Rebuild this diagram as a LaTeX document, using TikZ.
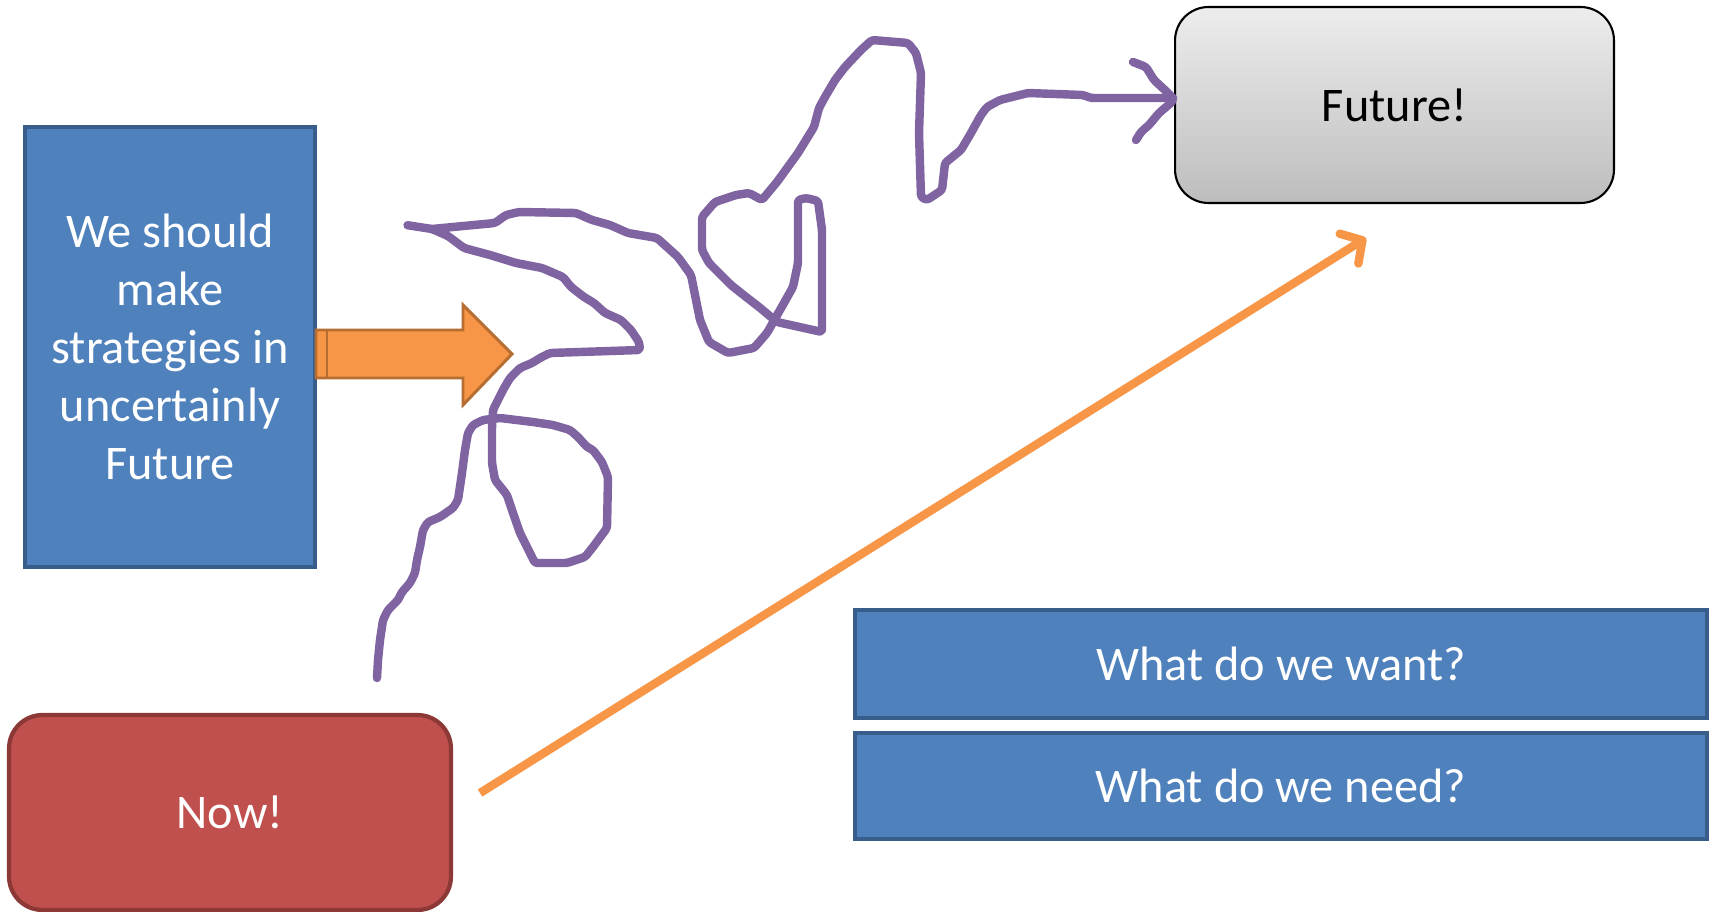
\documentclass[tikz,border=0pt]{standalone}
\usepackage{fontspec}
\setmainfont{Carlito}
\usetikzlibrary{arrows.meta,positioning}
\definecolor{boxblue}{RGB}{79,129,189}
\definecolor{boxedge}{RGB}{56,93,138}
\definecolor{nowred}{RGB}{192,80,77}
\definecolor{nowedge}{RGB}{140,56,54}
\definecolor{orange}{RGB}{247,150,70}
\definecolor{orangedge}{RGB}{182,109,49}
\definecolor{scrib}{RGB}{128,100,162}
\definecolor{futtop}{RGB}{237,237,237}
\definecolor{futbot}{RGB}{189,189,189}
\tikzset{
  big/.style={font=\fontsize{27.5}{33}\selectfont},
  blk/.style={big,draw=boxedge,line width=2.2pt,fill=boxblue,text=white,align=center,inner sep=0pt},
  nowbox/.style={big,draw=nowedge,line width=2.4pt,fill=nowred,text=white,rounded corners=19pt,inner sep=0pt},
  futbox/.style={big,draw=black,line width=1.2pt,top color=futtop,bottom color=futbot,rounded corners=19pt,inner sep=0pt},
  arr/.style={-{Straight Barb[length=9pt,width=20pt,round]},line width=4.8pt,draw=orange},
  scribble/.style={draw=scrib,line width=4.8pt,line cap=round,line join=round,rounded corners=1.5pt},
  blockarr/.style={draw=orangedge,line width=1.7pt,fill=orange,line join=miter}
}

\begin{document}
\begin{tikzpicture}[x=0.02cm,y=-0.02cm]
  \useasboundingbox (0,0) rectangle (1710,912);

  \node[blk,minimum width=5.8cm,minimum height=8.8cm] (plan) at (170,347) {We should\\make\\strategies in\\uncertainly\\Future};
  \node[futbox,minimum width=8.78cm,minimum height=3.92cm] (fut) at (1394.5,105) {Future!};
  \node[nowbox,minimum width=8.84cm,minimum height=3.9cm] (now) at (230,812.5) {Now!};
  \node[blk,minimum width=17.04cm,minimum height=2.16cm] (want) at (1281,664) {What do we want?};
  \node[blk,minimum width=17.04cm,minimum height=2.12cm] (need) at (1281,786) {What do we need?};

  % fat arrow out of the plan box
  \draw[blockarr] (316,330) -- (463,330) -- (463,305) -- (512,354) -- (463,405) -- (463,378) -- (316,378) -- cycle;
  \draw[orangedge,line width=1.2pt] (327,331) -- (327,377);

  % straight way
  \coordinate (nowtip) at (480,793);
  \coordinate (futtip) at (1366,238);
  \draw[arr] (nowtip) -- (futtip);

  % the winding way
  \coordinate (futin) at (1173,98);
  \draw[scribble] plot coordinates {
    (377,678) (378,660) (380,640) (383,620) (388,610) (398,600) (402,592) (410,583) (415,573) (417,560)
    (420,547) (423,530) (428,522) (440,517) (453,508) (458,500) (462,473) (465,450) (468,433) (473,425)
    (483,420) (500,418) (533,422) (553,425) (570,430) (578,437) (587,447) (593,450) (602,462) (608,477)
    (607,528) (593,547) (585,557) (567,563) (535,563) (532,557) (525,543) (520,533) (513,513) (507,495)
    (495,480) (492,463) (492,427) (493,410) (497,402) (503,390) (510,378) (520,368) (532,363) (540,358)
    (550,353) (640,350) (639,342) (631,330) (621,320) (605,313) (594,303) (584,297) (571,287) (563,277)
    (542,268) (516,263) (490,255) (464,248) (448,236) (432,229) (406,225) (432,229) (495,223) (506,215)
    (519,212) (576,213) (592,220) (610,225) (628,233) (657,238) (678,257) (691,275) (696,300) (700,320)
    (709,342) (728,353) (754,348) (767,333) (780,310) (793,287) (798,263) (798,200) (806,198) (818,201)
    (822,230) (822,332) (777,322) (759,307) (741,293) (731,285) (723,277) (709,263) (702,250) (702,217)
    (715,202) (736,195) (749,193) (762,200) (777,182) (798,153) (814,127) (819,108) (825,97) (835,80)
    (845,67) (861,50) (872,40) (908,43) (916,53) (921,73) (919,133) (921,197) (927,200) (942,190)
    (945,163) (961,150) (971,133) (981,115) (987,107) (1000,100) (1028,93) (1083,95) (1091,98) (futin)};
  \draw[scribble] (1133,62) -- (1146,67) -- (1154,80) -- (1167,92) -- (futin)
    -- (1172,102) -- (1159,113) -- (1149,125) -- (1141,132) -- (1136,140);
\end{tikzpicture}
\end{document}
